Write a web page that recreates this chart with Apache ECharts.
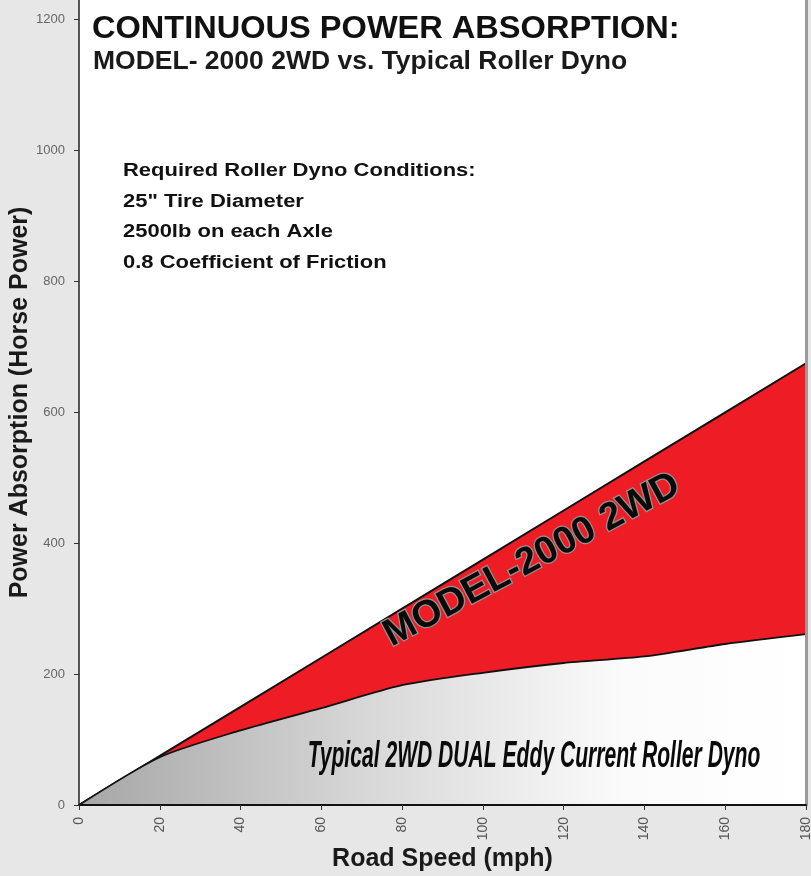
<!DOCTYPE html>
<html>
<head>
<meta charset="utf-8">
<script src="https://cdn.jsdelivr.net/npm/echarts@6/dist/echarts.min.js"></script>
<style>
  html, body { margin: 0; padding: 0; background: #e7e7e7; }
  #chart { width: 811px; height: 876px; }
</style>
</head>
<body>
<div id="chart"></div>
<script>
// Road speed (mph)
const speeds = [0, 20, 40, 60, 80, 100, 120, 140, 160, 180];
// MODEL-2000 2WD continuous absorption (hp)
const model2000Hp = [0, 75, 150, 225, 300, 375, 450, 525, 600, 675];
// Typical 2WD dual eddy current roller dyno (hp)
const rollerDynoHp = [0, 73, 114, 148, 183, 202, 217, 227, 246, 261];
// Axis settings
const yTickStep = 200;
const xTickStep = 20;

const titleText = 'CONTINUOUS POWER ABSORPTION:';
const subtitleText = 'MODEL- 2000 2WD vs. Typical Roller Dyno';
const conditionLines = [
  'Required Roller Dyno Conditions:',
  '25" Tire Diameter',
  '2500lb on each Axle',
  '0.8 Coefficient of Friction'
];
const bandLabel = 'MODEL-2000 2WD';
const dynoLabel = 'Typical 2WD DUAL Eddy Current Roller Dyno';

const toPairs = (ys) => speeds.map((s, i) => [s, ys[i]]);

const chart = echarts.init(document.getElementById('chart'), null, { renderer: 'canvas' });

const F = "'Liberation Sans', Arial, sans-serif";
const NARROW = "'Liberation Sans Narrow', 'Liberation Sans', Arial, sans-serif";

const graphics = [
  {
    type: 'text', x: 92, y: 29, scaleX: 1.05, z: 100,
    style: { text: titleText, font: 'bold 31px ' + F, fill: '#111', textAlign: 'left', textVerticalAlign: 'middle' }
  },
  {
    type: 'text', x: 93, y: 62, scaleX: 1.06, z: 100,
    style: { text: subtitleText, font: 'bold 25px ' + F, fill: '#1a1a1a', textAlign: 'left', textVerticalAlign: 'middle' }
  }
];
const lineYs = [171, 202, 232, 263];
conditionLines.forEach((t, i) => {
  graphics.push({
    type: 'text', x: 123, y: lineYs[i], scaleX: 1.22, z: 100,
    style: { text: t, font: 'bold 18px ' + F, fill: '#111', textAlign: 'left', textVerticalAlign: 'middle' }
  });
});
graphics.push({
  type: 'text', x: 532, y: 560, rotation: 0.49, z: 100,
  style: {
    text: bandLabel, font: 'bold 38px ' + F, fill: '#0a0a0a',
    stroke: 'rgba(150,150,150,0.95)', lineWidth: 2.5,
    textAlign: 'center', textVerticalAlign: 'middle'
  }
});
graphics.push({
  type: 'text', x: 534, y: 757, scaleX: 0.57, z: 100,
  style: {
    text: dynoLabel, font: 'italic bold 37px ' + F, fill: '#0a0a0a',
    textAlign: 'center', textVerticalAlign: 'middle',
    shadowColor: 'rgba(0,0,0,0.35)', shadowBlur: 3, shadowOffsetX: 2, shadowOffsetY: 2
  }
});

const option = {
  backgroundColor: '#e7e7e7',
  animation: false,
  grid: {
    left: 79, right: 5, top: 0, bottom: 71,
    outerBoundsMode: 'none', containLabel: false,
    show: true, backgroundColor: '#ffffff', borderWidth: 0
  },
  xAxis: {
    type: 'value', min: 0, max: 180, interval: xTickStep, z: 10,
    name: 'Road Speed (mph)', nameLocation: 'middle', nameGap: 42, nameMoveOverlap: false,
    nameTextStyle: { fontFamily: F, fontWeight: 'bold', fontSize: 25, color: '#1a1a1a' },
    axisLine: { show: true, lineStyle: { color: '#111', width: 2 } },
    axisTick: { show: true, length: 5, lineStyle: { color: '#333' } },
    axisLabel: { rotate: 90, fontSize: 14, color: '#555', margin: 12, fontFamily: NARROW },
    splitLine: { show: false }
  },
  yAxis: [
    {
      type: 'value', min: 0, max: 1230, interval: yTickStep, z: 10,
      name: 'Power Absorption (Horse Power)', nameLocation: 'middle', nameGap: 46, nameMoveOverlap: false,
      nameTextStyle: { fontFamily: F, fontWeight: 'bold', fontSize: 25, color: '#1a1a1a' },
      axisLine: { show: true, lineStyle: { color: '#222', width: 1.5 } },
      axisTick: { show: true, length: 5, lineStyle: { color: '#333' } },
      axisLabel: { fontSize: 13, color: '#666', margin: 14, fontFamily: NARROW, showMaxLabel: false,
                   formatter: (v) => String(v) },
      splitLine: { show: false }
    },
    {
      type: 'value', min: 0, max: 1230, interval: yTickStep, position: 'right', z: 10,
      axisLine: { show: true, lineStyle: { color: '#9a9a9a', width: 3 } },
      axisTick: { show: false }, axisLabel: { show: false }, splitLine: { show: false }
    }
  ],
  series: [
    {
      name: 'MODEL-2000 2WD', type: 'line', data: toPairs(model2000Hp),
      symbol: 'none', z: 2,
      lineStyle: { color: '#111', width: 2 },
      areaStyle: { color: '#ee1c25', opacity: 1 }
    },
    {
      name: 'Typical Roller Dyno', type: 'line', data: toPairs(rollerDynoHp),
      symbol: 'none', smooth: 0.25, z: 3,
      lineStyle: { color: '#111', width: 1.8 },
      areaStyle: {
        opacity: 1,
        color: new echarts.graphic.LinearGradient(0, 0, 1, 0, [
          { offset: 0, color: '#a6a6a6' },
          { offset: 0.4, color: '#d8d8d8' },
          { offset: 0.75, color: '#fbfbfb' },
          { offset: 1, color: '#ffffff' }
        ])
      }
    }
  ],
  graphic: graphics
};

chart.setOption(option);
</script>
</body>
</html>
